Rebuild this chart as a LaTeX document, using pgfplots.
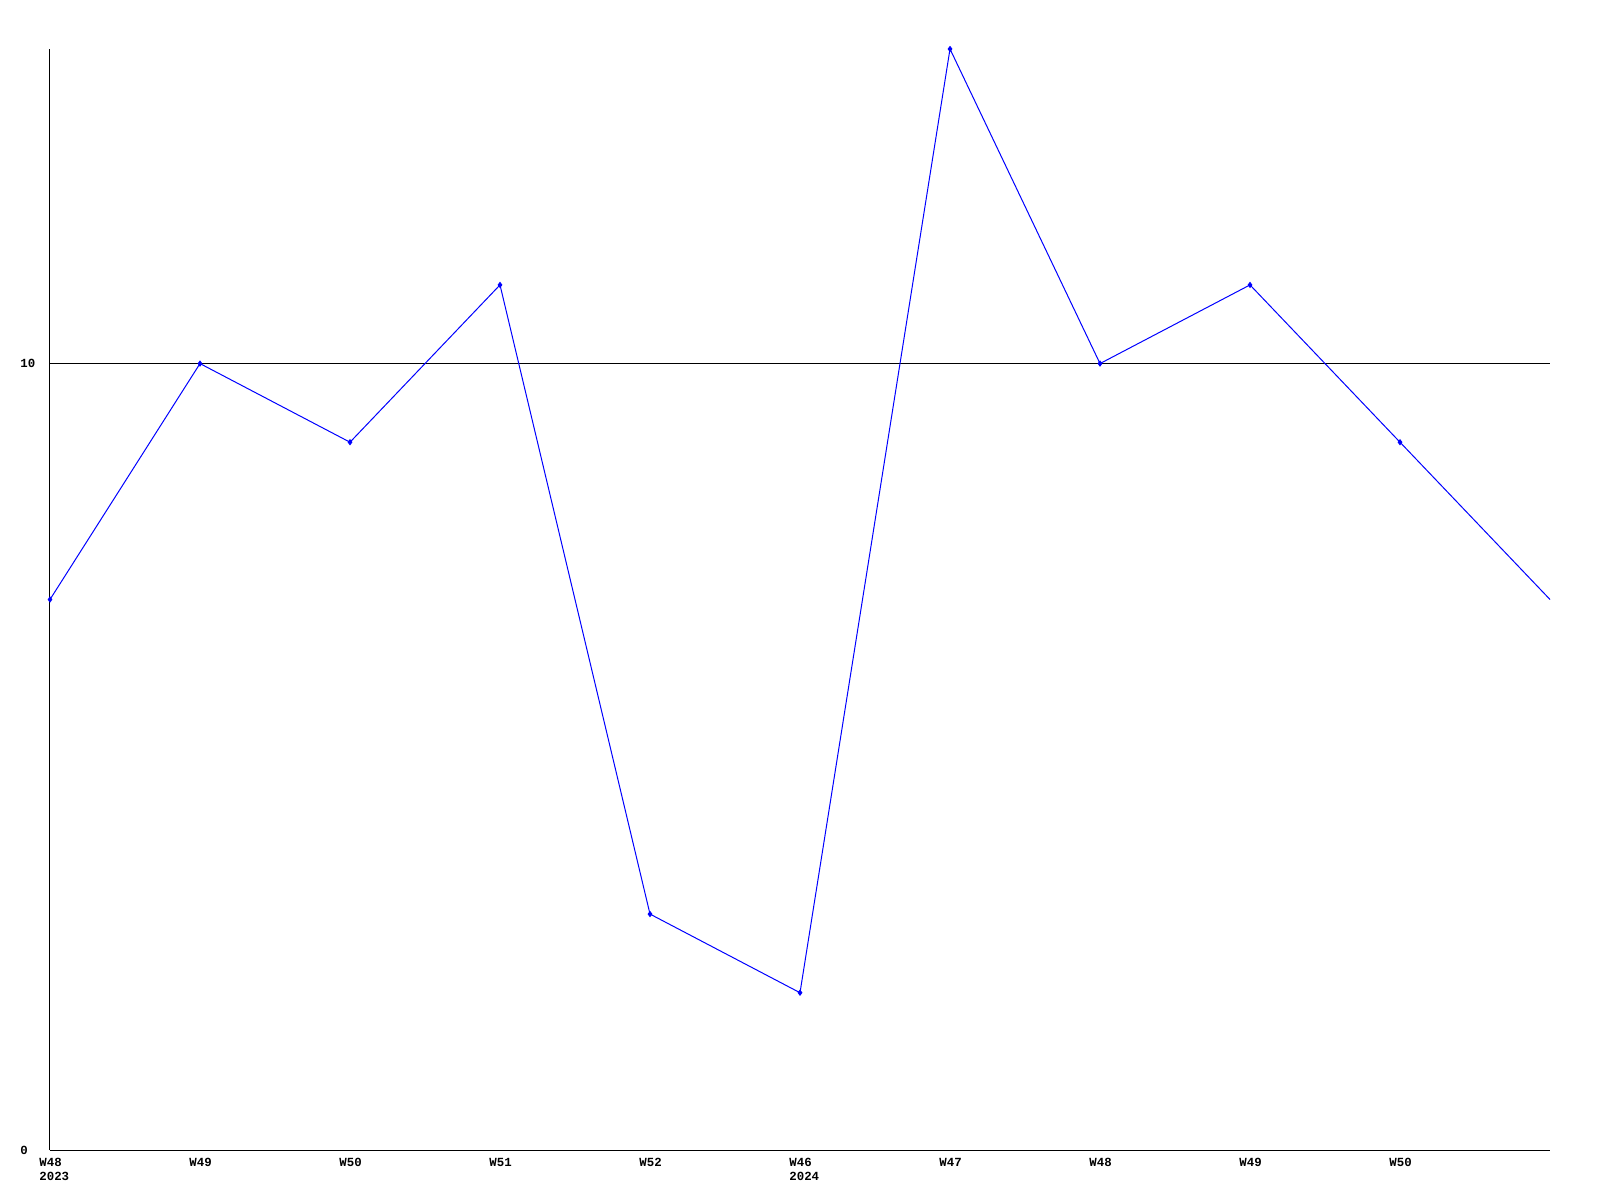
\documentclass[border=0pt]{standalone}
\usepackage{pgfplots}
\pgfplotsset{compat=1.18}
\usepackage{fontspec}
\setmainfont{Liberation Mono}
\begin{document}
\begin{tikzpicture}
\path[use as bounding box] (-25pt,-25pt) rectangle (775pt,575pt);
\begin{axis}[
  at={(0pt,0pt)}, anchor=south west,
  scale only axis, width=750pt, height=550.5pt,
  xmin=0, xmax=10, ymin=0, ymax=14,
  axis x line*=bottom, axis y line*=left,
  axis line style={-, black, line width=0.5pt},
  major tick length=0pt,
  xtick={0,1,2,3,4,5,6,7,8,9},
  xticklabels={{W48\\2023},W49,W50,W51,W52,{W46\\2024},W47,W48,W49,W50},
  xticklabel style={align=left, anchor=north west, inner sep=0pt, xshift=-5.5pt, yshift=-4pt, font=\fontsize{6.2}{7}\selectfont\bfseries},
  ytick={0,10},
  yticklabels={0,10},
  yticklabel style={anchor=west, inner sep=0pt, xshift=-15pt, font=\fontsize{6.2}{7}\selectfont\bfseries},
  ymajorgrids, grid style={black, line width=0.5pt},
  clip=false,
]
\addplot[blue, line width=0.5pt, mark=diamond*, mark size=1.2pt, mark options={blue}, mark indices={1,2,3,4,5,6,7,8,9,10}]
coordinates {(0,7) (1,10) (2,9) (3,11) (4,3) (5,2) (6,14) (7,10) (8,11) (9,9) (10,7)};
\end{axis}
\end{tikzpicture}
\end{document}
